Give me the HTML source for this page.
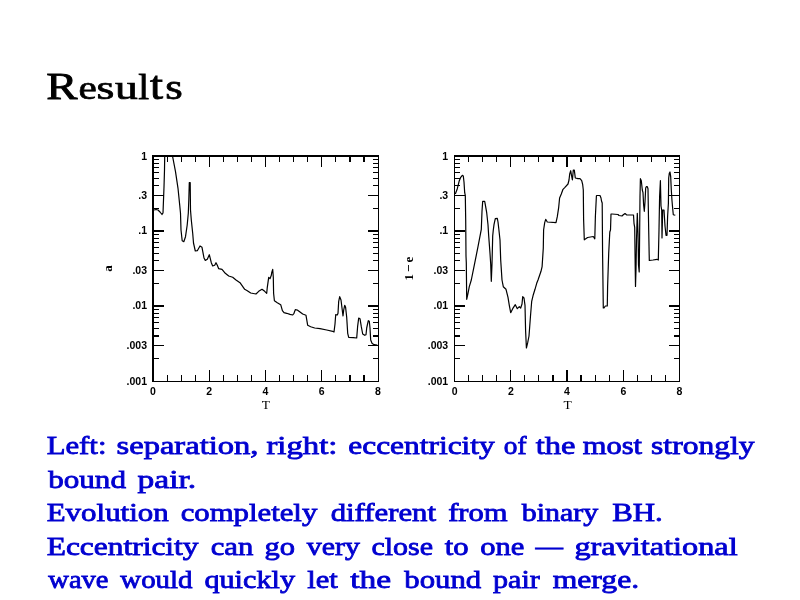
<!DOCTYPE html>
<html><head><meta charset="utf-8"><style>
html,body{margin:0;padding:0;background:#fff;}
svg{display:block;will-change:transform;}
.title{font-family:"Liberation Serif",serif;font-size:37.5px;fill:#000;stroke:#000;stroke-width:0.8px;}
.bt{font-family:"Liberation Serif",serif;font-size:25.8px;fill:#0000d0;stroke:#0000d0;stroke-width:0.8px;}
.tl{font-family:"Liberation Sans",sans-serif;font-weight:bold;font-size:10.5px;fill:#000;}
.al{font-family:"Liberation Serif",serif;font-size:13.5px;fill:#000;}
.yl{font-family:"Liberation Serif",serif;font-weight:bold;font-size:13px;fill:#000;}
</style></head><body>
<svg width="800" height="600" viewBox="0 0 800 600">
<rect width="800" height="600" fill="#fff"/>
<text class="title" transform="translate(46.21,99.45) scale(1.2490,1.0158)">R</text>
<text class="title" transform="translate(78.45,99.47) scale(1.0983,0.9120)">e</text>
<text class="title" transform="translate(96.47,99.42) scale(1.2240,0.9120)">s</text>
<text class="title" transform="translate(115.00,98.94) scale(1.2162,0.8822)">u</text>
<text class="title" transform="translate(138.34,99.36) scale(1.0410,0.9533)">l</text>
<text class="title" transform="translate(149.90,99.00) scale(1.2476,1.0697)">t</text>
<text class="title" transform="translate(165.25,99.30) scale(1.2000,0.9387)">s</text>
<rect x="152" y="155" width="2" height="227"/>
<rect x="378" y="155" width="1" height="227"/>
<rect x="152" y="155" width="227" height="2"/>
<rect x="152" y="381" width="227" height="1"/>
<rect x="167" y="157" width="1" height="5"/>
<rect x="167" y="375" width="1" height="6"/>
<rect x="181" y="157" width="1" height="5"/>
<rect x="181" y="375" width="1" height="6"/>
<rect x="195" y="157" width="1" height="5"/>
<rect x="195" y="375" width="1" height="6"/>
<rect x="209" y="157" width="1" height="10"/>
<rect x="209" y="370" width="1" height="11"/>
<rect x="223" y="157" width="1" height="5"/>
<rect x="223" y="375" width="1" height="6"/>
<rect x="237" y="157" width="1" height="5"/>
<rect x="237" y="375" width="1" height="6"/>
<rect x="251" y="157" width="1" height="5"/>
<rect x="251" y="375" width="1" height="6"/>
<rect x="265" y="157" width="1" height="10"/>
<rect x="265" y="370" width="1" height="11"/>
<rect x="279" y="157" width="1" height="5"/>
<rect x="279" y="375" width="1" height="6"/>
<rect x="293" y="157" width="1" height="5"/>
<rect x="293" y="375" width="1" height="6"/>
<rect x="307" y="157" width="1" height="5"/>
<rect x="307" y="375" width="1" height="6"/>
<rect x="321" y="157" width="1" height="10"/>
<rect x="321" y="370" width="1" height="11"/>
<rect x="335" y="157" width="1" height="5"/>
<rect x="335" y="375" width="1" height="6"/>
<rect x="349" y="157" width="2" height="5"/>
<rect x="349" y="375" width="2" height="6"/>
<rect x="363" y="157" width="2" height="5"/>
<rect x="363" y="375" width="2" height="6"/>
<rect x="154" y="358" width="5" height="1"/>
<rect x="373" y="358" width="5" height="1"/>
<rect x="154" y="345" width="10" height="1"/>
<rect x="368" y="345" width="10" height="1"/>
<rect x="154" y="335" width="5" height="2"/>
<rect x="373" y="335" width="5" height="2"/>
<rect x="154" y="328" width="5" height="1"/>
<rect x="373" y="328" width="5" height="1"/>
<rect x="154" y="322" width="5" height="1"/>
<rect x="373" y="322" width="5" height="1"/>
<rect x="154" y="317" width="5" height="1"/>
<rect x="373" y="317" width="5" height="1"/>
<rect x="154" y="313" width="5" height="1"/>
<rect x="373" y="313" width="5" height="1"/>
<rect x="154" y="309" width="5" height="1"/>
<rect x="373" y="309" width="5" height="1"/>
<rect x="154" y="305" width="10" height="2"/>
<rect x="368" y="305" width="10" height="2"/>
<rect x="154" y="305" width="10" height="2"/>
<rect x="368" y="305" width="10" height="2"/>
<rect x="154" y="283" width="5" height="1"/>
<rect x="373" y="283" width="5" height="1"/>
<rect x="154" y="270" width="10" height="1"/>
<rect x="368" y="270" width="10" height="1"/>
<rect x="154" y="260" width="5" height="1"/>
<rect x="373" y="260" width="5" height="1"/>
<rect x="154" y="253" width="5" height="1"/>
<rect x="373" y="253" width="5" height="1"/>
<rect x="154" y="247" width="5" height="1"/>
<rect x="373" y="247" width="5" height="1"/>
<rect x="154" y="242" width="5" height="1"/>
<rect x="373" y="242" width="5" height="1"/>
<rect x="154" y="238" width="5" height="1"/>
<rect x="373" y="238" width="5" height="1"/>
<rect x="154" y="234" width="5" height="1"/>
<rect x="373" y="234" width="5" height="1"/>
<rect x="154" y="230" width="10" height="2"/>
<rect x="368" y="230" width="10" height="2"/>
<rect x="154" y="230" width="10" height="2"/>
<rect x="368" y="230" width="10" height="2"/>
<rect x="154" y="208" width="5" height="1"/>
<rect x="373" y="208" width="5" height="1"/>
<rect x="154" y="195" width="10" height="1"/>
<rect x="368" y="195" width="10" height="1"/>
<rect x="154" y="185" width="5" height="1"/>
<rect x="373" y="185" width="5" height="1"/>
<rect x="154" y="178" width="5" height="1"/>
<rect x="373" y="178" width="5" height="1"/>
<rect x="154" y="172" width="5" height="1"/>
<rect x="373" y="172" width="5" height="1"/>
<rect x="154" y="167" width="5" height="1"/>
<rect x="373" y="167" width="5" height="1"/>
<rect x="154" y="163" width="5" height="1"/>
<rect x="373" y="163" width="5" height="1"/>
<rect x="154" y="159" width="5" height="1"/>
<rect x="373" y="159" width="5" height="1"/>
<clipPath id="cl"><rect x="152" y="156" width="226" height="226"/></clipPath>
<polyline clip-path="url(#cl)" fill="none" stroke="#000" stroke-width="1.2" stroke-linejoin="round" points="154,210 156,209.5 158,210 160,212 162,214.5 163,213 163.5,200 164,187 164.5,170 164.8,150 172.2,150 172.5,156 175.5,171.7 178,188.3 179.7,205 180.5,213.3 181,230 182.2,240.8 183.8,241.7 185.5,236.7 187.2,225 188.3,213.3 188.8,200 189.3,182.5 190.2,182.5 190.5,210 191.3,220 192.7,233.3 193.5,243 195.3,251 197.3,250.7 200,246 202,247.3 204,258 205.3,260.4 207.3,259.3 209.3,254.7 211.3,262.7 212.7,266 214.7,265.3 216,262.7 217.3,265.3 218.7,268.7 222,269.3 225.3,273.3 228.7,276 232.7,277.3 236,280 240,282.7 243.3,287.3 244.7,289.3 247.3,290.7 250.7,293 256,294 258.7,291.3 262,289.3 264.7,291.3 266.7,293.3 267.3,287.3 268.7,277.3 270,278.7 271.3,275.3 271.7,272.7 272.7,269.3 273.3,277.3 273.6,293.3 274.4,300.7 277.3,302.7 280.7,304.7 282.4,310.7 284,312.7 286.7,313.3 290,314.4 292.7,315 294,313.3 295.3,309.6 297.3,310 300,312 302.7,314 306,315.3 307.7,325.3 310.7,326.7 314.7,328 320,328.7 326.7,330 332.7,331.3 334,332 335,324 335.7,314.7 337.3,315 338,313.3 338.7,301.3 339.7,296.7 341,300 342,308 343,316 343.7,310 344.7,305.3 345.6,307.3 346.7,317.3 347.7,333.3 348.7,337.3 353.3,337.6 356.7,338 357.6,326.7 358.7,318 360,318.7 361.3,326.7 362.7,334 364.7,335.3 366,334.7 366.7,328 368.3,320.7 369.3,321.3 370,328 370.7,340 372,343.3 374,344.7 377.3,345"/>
<text class="tl" x="147" y="160.2" text-anchor="end">1</text>
<text class="tl" x="147" y="198.5" text-anchor="end">.3</text>
<text class="tl" x="147" y="234.3" text-anchor="end">.1</text>
<text class="tl" x="147" y="273.6" text-anchor="end">.03</text>
<text class="tl" x="147" y="309.4" text-anchor="end">.01</text>
<text class="tl" x="147" y="348.7" text-anchor="end">.003</text>
<text class="tl" x="147" y="384.5" text-anchor="end">.001</text>
<text class="tl" x="153.0" y="395" text-anchor="middle">0</text>
<text class="tl" x="209.2" y="395" text-anchor="middle">2</text>
<text class="tl" x="265.4" y="395" text-anchor="middle">4</text>
<text class="tl" x="321.6" y="395" text-anchor="middle">6</text>
<text class="tl" x="377.8" y="395" text-anchor="middle">8</text>
<text class="al" x="265.9" y="409" text-anchor="middle">T</text>
<text class="yl" transform="translate(112,268.5) rotate(-90)" x="0" y="0" text-anchor="middle" >a</text>
<rect x="454" y="155" width="1" height="227"/>
<rect x="679" y="155" width="1" height="227"/>
<rect x="454" y="155" width="226" height="2"/>
<rect x="454" y="381" width="226" height="1"/>
<rect x="468" y="157" width="1" height="5"/>
<rect x="468" y="375" width="1" height="6"/>
<rect x="482" y="157" width="1" height="5"/>
<rect x="482" y="375" width="1" height="6"/>
<rect x="496" y="157" width="1" height="5"/>
<rect x="496" y="375" width="1" height="6"/>
<rect x="510" y="157" width="1" height="10"/>
<rect x="510" y="370" width="1" height="11"/>
<rect x="524" y="157" width="1" height="5"/>
<rect x="524" y="375" width="1" height="6"/>
<rect x="538" y="157" width="1" height="5"/>
<rect x="538" y="375" width="1" height="6"/>
<rect x="552" y="157" width="2" height="5"/>
<rect x="552" y="375" width="2" height="6"/>
<rect x="566" y="157" width="2" height="10"/>
<rect x="566" y="370" width="2" height="11"/>
<rect x="580" y="157" width="2" height="5"/>
<rect x="580" y="375" width="2" height="6"/>
<rect x="595" y="157" width="1" height="5"/>
<rect x="595" y="375" width="1" height="6"/>
<rect x="609" y="157" width="1" height="5"/>
<rect x="609" y="375" width="1" height="6"/>
<rect x="623" y="157" width="1" height="10"/>
<rect x="623" y="370" width="1" height="11"/>
<rect x="637" y="157" width="1" height="5"/>
<rect x="637" y="375" width="1" height="6"/>
<rect x="651" y="157" width="1" height="5"/>
<rect x="651" y="375" width="1" height="6"/>
<rect x="665" y="157" width="1" height="5"/>
<rect x="665" y="375" width="1" height="6"/>
<rect x="455" y="358" width="5" height="1"/>
<rect x="674" y="358" width="5" height="1"/>
<rect x="455" y="345" width="10" height="1"/>
<rect x="669" y="345" width="10" height="1"/>
<rect x="455" y="335" width="5" height="2"/>
<rect x="674" y="335" width="5" height="2"/>
<rect x="455" y="328" width="5" height="1"/>
<rect x="674" y="328" width="5" height="1"/>
<rect x="455" y="322" width="5" height="1"/>
<rect x="674" y="322" width="5" height="1"/>
<rect x="455" y="317" width="5" height="1"/>
<rect x="674" y="317" width="5" height="1"/>
<rect x="455" y="313" width="5" height="1"/>
<rect x="674" y="313" width="5" height="1"/>
<rect x="455" y="309" width="5" height="1"/>
<rect x="674" y="309" width="5" height="1"/>
<rect x="455" y="305" width="10" height="2"/>
<rect x="669" y="305" width="10" height="2"/>
<rect x="455" y="305" width="10" height="2"/>
<rect x="669" y="305" width="10" height="2"/>
<rect x="455" y="283" width="5" height="1"/>
<rect x="674" y="283" width="5" height="1"/>
<rect x="455" y="270" width="10" height="1"/>
<rect x="669" y="270" width="10" height="1"/>
<rect x="455" y="260" width="5" height="1"/>
<rect x="674" y="260" width="5" height="1"/>
<rect x="455" y="253" width="5" height="1"/>
<rect x="674" y="253" width="5" height="1"/>
<rect x="455" y="247" width="5" height="1"/>
<rect x="674" y="247" width="5" height="1"/>
<rect x="455" y="242" width="5" height="1"/>
<rect x="674" y="242" width="5" height="1"/>
<rect x="455" y="238" width="5" height="1"/>
<rect x="674" y="238" width="5" height="1"/>
<rect x="455" y="234" width="5" height="1"/>
<rect x="674" y="234" width="5" height="1"/>
<rect x="455" y="230" width="10" height="2"/>
<rect x="669" y="230" width="10" height="2"/>
<rect x="455" y="230" width="10" height="2"/>
<rect x="669" y="230" width="10" height="2"/>
<rect x="455" y="208" width="5" height="1"/>
<rect x="674" y="208" width="5" height="1"/>
<rect x="455" y="195" width="10" height="1"/>
<rect x="669" y="195" width="10" height="1"/>
<rect x="455" y="185" width="5" height="1"/>
<rect x="674" y="185" width="5" height="1"/>
<rect x="455" y="178" width="5" height="1"/>
<rect x="674" y="178" width="5" height="1"/>
<rect x="455" y="172" width="5" height="1"/>
<rect x="674" y="172" width="5" height="1"/>
<rect x="455" y="167" width="5" height="1"/>
<rect x="674" y="167" width="5" height="1"/>
<rect x="455" y="163" width="5" height="1"/>
<rect x="674" y="163" width="5" height="1"/>
<rect x="455" y="159" width="5" height="1"/>
<rect x="674" y="159" width="5" height="1"/>
<clipPath id="cr"><rect x="454" y="156" width="225" height="226"/></clipPath>
<polyline clip-path="url(#cr)" fill="none" stroke="#000" stroke-width="1.2" stroke-linejoin="round" points="455.3,194 457.3,188.7 459.3,180.7 460.7,177.3 462.3,175.3 463.3,176 464,182 464.7,192.7 465.3,195.3 465.7,220 466,256 466.3,262.7 466.7,299.3 468,293.3 469.3,286.7 471.3,280 474,266.7 478,246.7 481.3,229.3 482,211.3 482.7,201.3 484.7,201.3 485.3,204.7 486.7,212.7 488,224.7 488.7,236 490,253.3 490.7,264 491.3,281.3 492,264 492.7,236 493.3,230 494,224.7 495.3,218.7 497.3,218.3 498,222 498.7,228 500,240 500.7,260 502,280 503.3,286.7 506,289.3 508,297.3 509.3,305.3 510.7,312.7 512.7,308.7 515.3,304.7 517.3,308.7 519.3,306.7 520.7,308 522,304 522.7,296.7 524,298 525,305.3 525.6,330.7 526.4,348 527.7,342.7 529,336 530.4,317.3 531.7,301.3 533.3,294.7 535,289.3 536.7,283.3 538,280 541,271.3 542.1,266.6 543.3,248 543.6,230 544.7,222.7 545.7,219.3 547.3,222 556,222.7 557.3,216.7 558.7,207.3 559.6,198 561.3,194 563,189.3 564.7,187.6 568,184 569,180 569.7,174 570.7,170.7 571.6,176 572.4,180 573.3,170 574.3,170 575.3,178 578,178.7 580,178.7 581.7,180.7 582.7,184.7 583.3,190 583.6,219.3 584.3,239.8 587.6,237.5 593.3,236.5 594.8,238.8 595.4,216 596.4,196 596.5,195.5 600,195.5 601,198 601.5,201 602.2,203 602.6,255 603.3,308 604,308 605.3,306 607.3,306 607.6,286.7 608.7,253.3 609.8,232 610.5,230 611,214 612,214 618,214.5 619,215.5 622,216 623,215 625,213.5 626.5,214.8 633.5,215 634,223.3 634.7,227.3 635.2,266.7 635.5,286.5 636,269.3 636.5,240 637.3,213.3 638,233 638.5,265 639.2,272 639.5,246.7 640,196.7 640.4,178.7 641.3,180.7 642.3,190 643,192.7 643.6,204.7 644.3,211.3 645,202 645.7,188 646.3,186.7 647.3,186.7 648,188.7 648.7,230 649.3,260.5 653,260 657,259.3 658.3,260 659,230 659.6,196.7 660.4,180.7 661,206 661.7,210 662,238 662.7,210 664,210 665,226 666,235.3 667,235.3 667.6,216.7 668.4,203.3 668.7,178 669.3,173.3 670,172 670.7,176.7 671.3,190 672,200.7 672.7,208.7 673.3,214.7 675.3,215.3"/>
<text class="tl" x="448.2" y="160.2" text-anchor="end">1</text>
<text class="tl" x="448.2" y="198.5" text-anchor="end">.3</text>
<text class="tl" x="448.2" y="234.3" text-anchor="end">.1</text>
<text class="tl" x="448.2" y="273.6" text-anchor="end">.03</text>
<text class="tl" x="448.2" y="309.4" text-anchor="end">.01</text>
<text class="tl" x="448.2" y="348.7" text-anchor="end">.003</text>
<text class="tl" x="448.2" y="384.5" text-anchor="end">.001</text>
<text class="tl" x="454.6" y="395" text-anchor="middle">0</text>
<text class="tl" x="510.8" y="395" text-anchor="middle">2</text>
<text class="tl" x="567.0" y="395" text-anchor="middle">4</text>
<text class="tl" x="623.3" y="395" text-anchor="middle">6</text>
<text class="tl" x="679.5" y="395" text-anchor="middle">8</text>
<text class="al" x="567.5" y="409" text-anchor="middle">T</text>
<text class="yl" transform="translate(413,267.6) rotate(-90)" x="0" y="0" text-anchor="middle" letter-spacing="2">1−e</text>
<text class="bt" transform="translate(46.70,453.8) scale(1.1917,1)">Left:</text>
<text class="bt" transform="translate(116.55,453.8) scale(1.2615,1)">separation,</text>
<text class="bt" transform="translate(266.38,453.8) scale(1.2704,1)">right:</text>
<text class="bt" transform="translate(348.29,453.8) scale(1.2175,1)">eccentricity</text>
<text class="bt" transform="translate(503.87,453.8) scale(1.0588,1)">of</text>
<text class="bt" transform="translate(535.72,453.8) scale(1.2608,1)">the</text>
<text class="bt" transform="translate(582.70,453.8) scale(1.1821,1)">most</text>
<text class="bt" transform="translate(651.08,453.8) scale(1.2238,1)">strongly</text>
<text class="bt" transform="translate(48.20,487.8) scale(1.2062,1)">bound</text>
<text class="bt" transform="translate(137.60,487.8) scale(1.2983,1)">pair.</text>
<text class="bt" transform="translate(46.70,520.9) scale(1.1995,1)">Evolution</text>
<text class="bt" transform="translate(180.65,520.9) scale(1.1926,1)">completely</text>
<text class="bt" transform="translate(330.65,520.9) scale(1.1932,1)">different</text>
<text class="bt" transform="translate(448.16,520.9) scale(1.1869,1)">from</text>
<text class="bt" transform="translate(521.83,520.9) scale(1.1610,1)">binary</text>
<text class="bt" transform="translate(612.20,520.9) scale(1.1963,1)">BH.</text>
<text class="bt" transform="translate(46.70,554.9) scale(1.2189,1)">Eccentricity</text>
<text class="bt" transform="translate(210.65,554.9) scale(1.1915,1)">can</text>
<text class="bt" transform="translate(264.61,554.9) scale(1.1837,1)">go</text>
<text class="bt" transform="translate(306.83,554.9) scale(1.1559,1)">very</text>
<text class="bt" transform="translate(371.42,554.9) scale(1.1635,1)">close</text>
<text class="bt" transform="translate(444.80,554.9) scale(1.1899,1)">to</text>
<text class="bt" transform="translate(480.16,554.9) scale(1.1862,1)">one</text>
<text class="bt" transform="translate(535.53,554.9) scale(1.0654,1)">—</text>
<text class="bt" transform="translate(574.46,554.9) scale(1.2525,1)">gravitational</text>
<text class="bt" transform="translate(48.28,587.8) scale(1.1060,1)">wave</text>
<text class="bt" transform="translate(120.28,587.8) scale(1.1197,1)">would</text>
<text class="bt" transform="translate(204.41,587.8) scale(1.1715,1)">quickly</text>
<text class="bt" transform="translate(307.20,587.8) scale(1.1845,1)">let</text>
<text class="bt" transform="translate(350.32,587.8) scale(1.2960,1)">the</text>
<text class="bt" transform="translate(404.35,587.8) scale(1.1923,1)">bound</text>
<text class="bt" transform="translate(493.00,587.8) scale(1.1677,1)">pair</text>
<text class="bt" transform="translate(552.69,587.8) scale(1.2276,1)">merge.</text>
</svg>
</body></html>
